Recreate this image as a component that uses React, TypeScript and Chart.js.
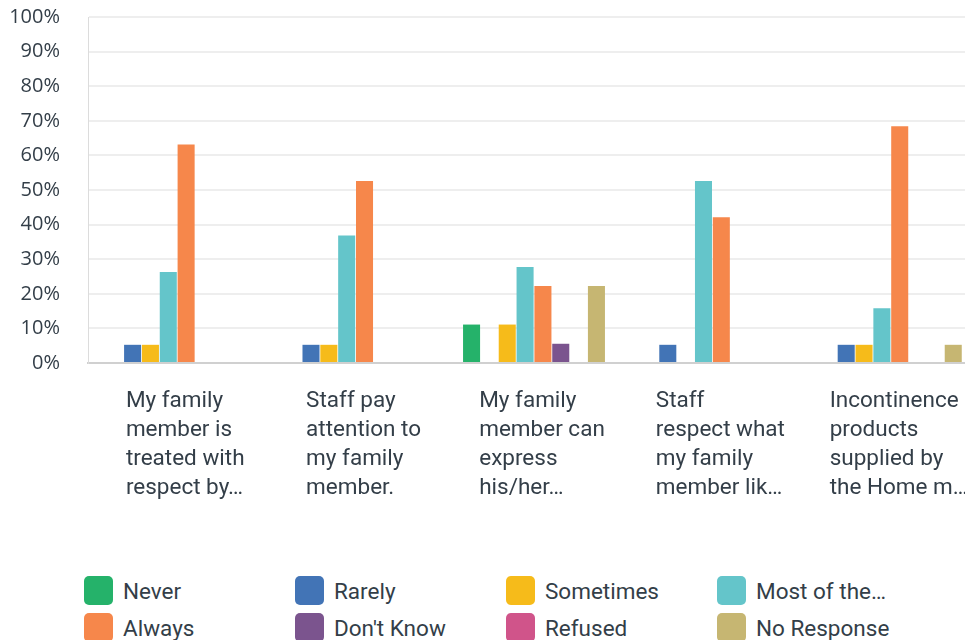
import React, { useEffect, useRef } from "react";
import { Chart, registerables } from "chart.js";

Chart.register(...registerables);

const categories: string[][] = [
  ["My family", "member is", "treated with", "respect by…"],
  ["Staff pay", "attention to", "my family", "member."],
  ["My family", "member can", "express", "his/her…"],
  ["Staff", "respect what", "my family", "member lik…"],
  ["Incontinence", "products", "supplied by", "the Home m…"],
];

const seriesNames: string[] = [
  "Never",
  "Rarely",
  "Sometimes",
  "Most of the…",
  "Always",
  "Don't Know",
  "Refused",
  "No Response",
];

const seriesColors: string[] = [
  "#25b26a",
  "#4274b6",
  "#f6bb1a",
  "#64c5ca",
  "#f6874b",
  "#7b548e",
  "#d0548a",
  "#c6b672",
];

const never: number[] = [0, 0, 11.11, 0, 0];
const rarely: number[] = [5.26, 5.26, 0, 5.26, 5.26];
const sometimes: number[] = [5.26, 5.26, 11.11, 0, 5.26];
const mostOfTheTime: number[] = [26.32, 36.84, 27.78, 52.63, 15.79];
const always: number[] = [63.16, 52.63, 22.22, 42.11, 68.42];
const dontKnow: number[] = [0, 0, 5.56, 0, 0];
const refused: number[] = [0, 0, 0, 0, 0];
const noResponse: number[] = [0, 0, 22.22, 0, 5.26];

const seriesValues: number[][] = [
  never,
  rarely,
  sometimes,
  mostOfTheTime,
  always,
  dontKnow,
  refused,
  noResponse,
];

const yTicks: number[] = [0, 10, 20, 30, 40, 50, 60, 70, 80, 90, 100];

const TEXT = "#333e48";
const LABEL_FONT = "22.5px Roboto";

const xLabelPlugin = {
  id: "xLabelPlugin",
  afterDraw(chart: any) {
    const xs = chart.scales.x;
    const ctx = chart.ctx;
    ctx.save();
    ctx.font = LABEL_FONT;
    ctx.fillStyle = TEXT;
    ctx.textAlign = "left";
    ctx.textBaseline = "middle";
    const base = chart.chartArea.bottom + 38;
    categories.forEach((lines, i) => {
      const cx = xs.getPixelForTick(i);
      let maxW = 0;
      lines.forEach((l) => {
        maxW = Math.max(maxW, ctx.measureText(l).width);
      });
      const left = cx + 8 - maxW / 2;
      lines.forEach((l, j) => {
        ctx.fillText(l, left, base + j * 29);
      });
    });
    ctx.restore();
  },
};

export default function App() {
  const ref = useRef<HTMLCanvasElement | null>(null);

  useEffect(() => {
    if (!ref.current) return;
    const chart = new Chart(ref.current, {
      type: "bar",
      data: {
        labels: categories.map((c) => c.join(" ")),
        datasets: seriesNames.map((name, i) => ({
          label: name,
          data: seriesValues[i],
          backgroundColor: seriesColors[i],
          borderWidth: 0,
          categoryPercentage: 0.8,
          barPercentage: 0.955,
        })),
      },
      options: {
        animation: false,
        responsive: false,
        devicePixelRatio: 1,
        layout: { padding: { top: 17, left: 0, right: 2, bottom: 177 } },
        plugins: {
          legend: { display: false },
          tooltip: { enabled: false },
        },
        scales: {
          x: {
            grid: { display: false, drawTicks: false },
            ticks: { display: false },
            border: { display: true, color: "#d0d0d0", width: 2 },
            afterFit: (scale: any) => {
              scale.paddingLeft = 0;
              scale.paddingRight = 0;
            },
          },
          y: {
            min: 0,
            max: 100,
            afterBuildTicks: (scale: any) => {
              scale.ticks = yTicks.map((v) => ({ value: v }));
            },
            afterFit: (scale: any) => {
              scale.width = 88;
              scale.paddingTop = 0;
              scale.paddingBottom = 0;
            },
            ticks: {
              padding: 28,
              color: TEXT,
              font: { family: "Open Sans", size: 20 },
              callback: (v: any) => v + "%",
            },
            grid: { color: "#eeeeee", lineWidth: 2, drawTicks: false },
            border: { display: true, color: "#dcdcdc", width: 1 },
          },
        },
      },
      plugins: [xLabelPlugin],
    });
    return () => chart.destroy();
  }, []);

  return (
    <div
      style={{
        position: "fixed",
        left: 0,
        top: 0,
        width: 965,
        height: 640,
        overflow: "hidden",
        background: "#fff",
      }}
    >
      <canvas ref={ref} width={982} height={540} style={{ display: "block" }} />
      <div
        style={{
          position: "absolute",
          left: 84,
          top: 576,
          display: "grid",
          gridTemplateColumns: "211px 211px 211px 211px",
          gridAutoRows: "37px",
          fontFamily: "Roboto",
          fontSize: 22.5,
          color: TEXT,
        }}
      >
        {seriesNames.map((name, i) => (
          <div key={name} style={{ display: "flex", alignItems: "center", height: 29 }}>
            <span
              style={{
                width: 29,
                height: 29,
                borderRadius: 5,
                background: seriesColors[i],
                display: "inline-block",
                flex: "none",
              }}
            />
            <span style={{ marginLeft: 10, whiteSpace: "nowrap" }}>{name}</span>
          </div>
        ))}
      </div>
    </div>
  );
}
